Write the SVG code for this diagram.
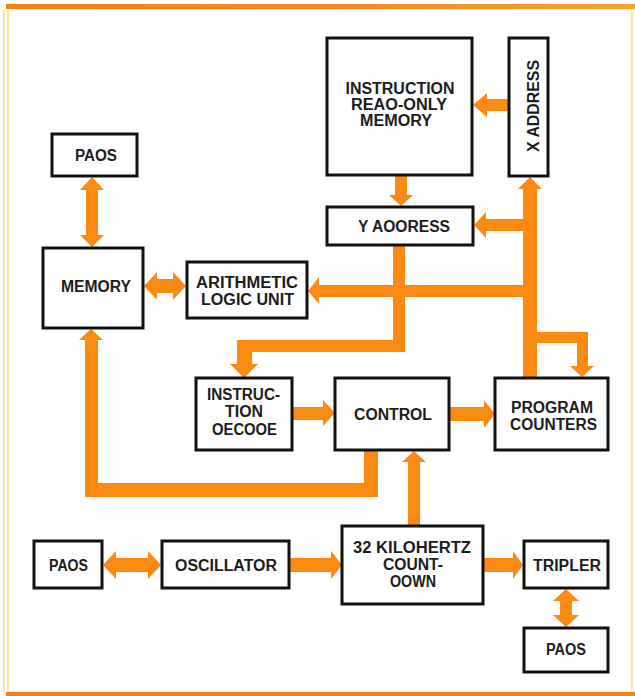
<svg xmlns="http://www.w3.org/2000/svg" width="635" height="696" viewBox="0 0 635 696">
<defs>
<linearGradient id="topband" x1="0" y1="0" x2="1" y2="0">
<stop offset="0" stop-color="#f7820f"/>
<stop offset="0.6" stop-color="#f98d1a"/>
<stop offset="1" stop-color="#f7a32a"/>
</linearGradient>
</defs>
<style>
.box{fill:#ffffff;stroke:#111111;stroke-width:3}
.bus{fill:#fb8a12;stroke:none}
.t{font-family:"Liberation Sans",Arial,sans-serif;font-weight:bold;font-size:16px;fill:#1c1c1c;text-anchor:middle}
.frame{fill:none;stroke:#f2e08a;stroke-width:1.5}
</style>
<rect x="0" y="0" width="635" height="696" fill="#ffffff"/>
<g id="frame">
<rect x="6" y="4" width="629" height="5" fill="url(#topband)"/>
<rect x="6" y="692" width="629" height="4" fill="#f7820f"/>
<line class="frame" x1="4" y1="10" x2="4" y2="692"/>
<line class="frame" x1="8" y1="10" x2="8" y2="692"/>
<line class="frame" x1="632" y1="10" x2="632" y2="692"/>
</g>
<g id="connectors">
<path class="bus" d="M509,99 H487 V93 L473,105 L487,117 V111 H509 Z"/>
<path class="bus" d="M395,175 H407 V195 H413 L401,206 L389,195 H395 Z"/>
<path class="bus" d="M523,377 V189 H518 L530,177 L542,189 H537 V332 H588 V366 H594 L582,377 L570,366 H577 V343 H537 V377 Z"/>
<path class="bus" d="M524,219 H486 V212 L474,225 L486,238 V231 H524 Z"/>
<path class="bus" d="M524,285 H319 V277 L308,291 L319,304 V297 H524 Z"/>
<path class="bus" d="M393,245 H405 V352 H252 V364 H258 L244,378 L230,364 H237 V340 H393 Z"/>
<path class="bus" d="M292,407 H323 V400 L335,413 L323,426 V420 H292 Z"/>
<path class="bus" d="M449,407 H484 V400 L495,414 L484,428 V421 H449 Z"/>
<path class="bus" d="M364,450 H378 V497 H85 V340 H79 L91,329 L103,340 H98 V483 H364 Z"/>
<path class="bus" d="M408,526 V462 H402 L414,451 L426,462 H420 V526 Z"/>
<path class="bus" d="M86,190 H80 L92,177 L104,190 H98 V235 H104 L92,247 L80,235 H86 Z"/>
<path class="bus" d="M157,279 V272 L144,286 L157,300 V293 H173 V300 L186,286 L173,272 V279 Z"/>
<path class="bus" d="M116,558 V551 L103,565 L116,579 V572 H148 V579 L161,565 L148,551 V558 Z"/>
<path class="bus" d="M289,558 H331 V551 L342,565 L331,579 V572 H289 Z"/>
<path class="bus" d="M483,558 H513 V551 L523,565 L513,579 V572 H483 Z"/>
<path class="bus" d="M560,601 H553 L566,589 L579,601 H572 V615 H579 L566,627 L553,615 H560 Z"/>
</g>
<g id="rom">
<rect class="box" x="327" y="38" width="145" height="137"/>
<text class="t" x="400" y="94" textLength="109" lengthAdjust="spacingAndGlyphs">INSTRUCTION</text>
<text class="t" x="399" y="110" textLength="96" lengthAdjust="spacingAndGlyphs">REAO-ONLY</text>
<text class="t" x="396" y="126" textLength="72" lengthAdjust="spacingAndGlyphs">MEMORY</text>
</g>
<g id="xaddress">
<rect class="box" x="509" y="38" width="39" height="138"/>
<text class="t" transform="translate(539,106) rotate(-90)" x="0" y="0" textLength="92" lengthAdjust="spacingAndGlyphs">X ADDRESS</text>
</g>
<g id="yaddress">
<rect class="box" x="327" y="207" width="146" height="38"/>
<text class="t" x="404" y="232" textLength="92" lengthAdjust="spacingAndGlyphs">Y AOORESS</text>
</g>
<g id="pads-top">
<rect class="box" x="52" y="134" width="85" height="42"/>
<text class="t" x="96" y="161" textLength="42" lengthAdjust="spacingAndGlyphs">PAOS</text>
</g>
<g id="memory">
<rect class="box" x="43" y="248" width="100" height="80"/>
<text class="t" x="96" y="292" textLength="70" lengthAdjust="spacingAndGlyphs">MEMORY</text>
</g>
<g id="alu">
<rect class="box" x="187" y="262" width="120" height="56"/>
<text class="t" x="247" y="288" textLength="102" lengthAdjust="spacingAndGlyphs">ARITHMETIC</text>
<text class="t" x="247.5" y="305" textLength="93" lengthAdjust="spacingAndGlyphs">LOGIC UNIT</text>
</g>
<g id="decode">
<rect class="box" x="196" y="378" width="96" height="72"/>
<text class="t" x="243.5" y="400" textLength="73" lengthAdjust="spacingAndGlyphs">INSTRUC-</text>
<text class="t" x="244" y="417" textLength="38" lengthAdjust="spacingAndGlyphs">TION</text>
<text class="t" x="244.5" y="435" textLength="65" lengthAdjust="spacingAndGlyphs">OECOOE</text>
</g>
<g id="control">
<rect class="box" x="335" y="378" width="114" height="72"/>
<text class="t" x="393" y="420" textLength="78" lengthAdjust="spacingAndGlyphs">CONTROL</text>
</g>
<g id="counters">
<rect class="box" x="495" y="378" width="113" height="72"/>
<text class="t" x="552" y="413" textLength="82" lengthAdjust="spacingAndGlyphs">PROGRAM</text>
<text class="t" x="553.5" y="430" textLength="87" lengthAdjust="spacingAndGlyphs">COUNTERS</text>
</g>
<g id="pads-left">
<rect class="box" x="34" y="541" width="68" height="47"/>
<text class="t" x="68.5" y="571" textLength="39" lengthAdjust="spacingAndGlyphs">PAOS</text>
</g>
<g id="oscillator">
<rect class="box" x="162" y="541" width="127" height="47"/>
<text class="t" x="226" y="571" textLength="102" lengthAdjust="spacingAndGlyphs">OSCILLATOR</text>
</g>
<g id="countdown">
<rect class="box" x="342" y="526" width="141" height="78"/>
<text class="t" x="412" y="553" textLength="118" lengthAdjust="spacingAndGlyphs">32 KILOHERTZ</text>
<text class="t" x="413" y="570" textLength="60" lengthAdjust="spacingAndGlyphs">COUNT-</text>
<text class="t" x="413" y="587" textLength="46" lengthAdjust="spacingAndGlyphs">OOWN</text>
</g>
<g id="tripler">
<rect class="box" x="524" y="541" width="84" height="47"/>
<text class="t" x="567" y="571" textLength="68" lengthAdjust="spacingAndGlyphs">TRIPLER</text>
</g>
<g id="pads-bottom">
<rect class="box" x="524" y="628" width="84" height="44"/>
<text class="t" x="566" y="655" textLength="40" lengthAdjust="spacingAndGlyphs">PAOS</text>
</g>
</svg>
